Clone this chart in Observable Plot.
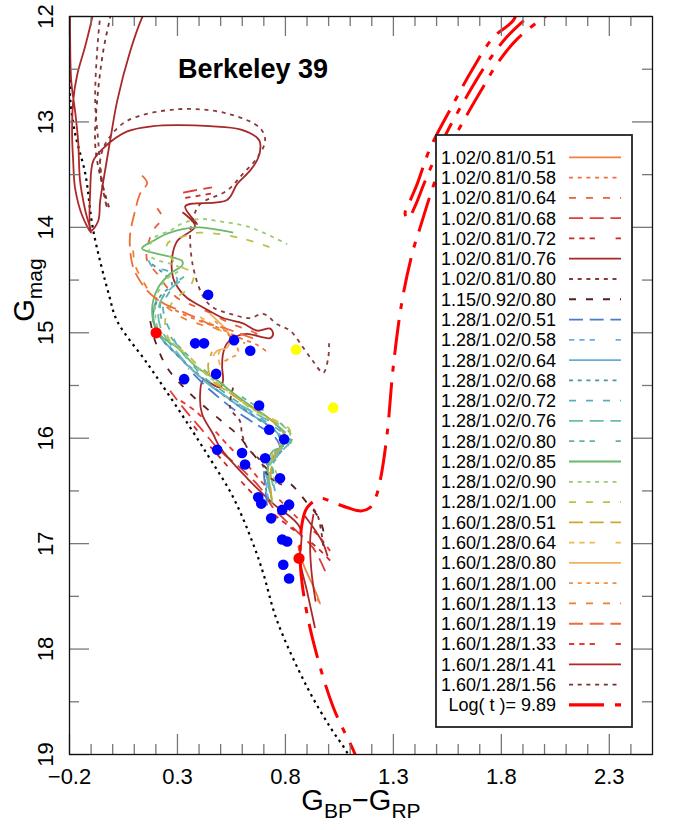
<!DOCTYPE html>
<html><head><meta charset="utf-8">
<script src="https://cdn.jsdelivr.net/npm/d3@7"></script>
<script src="https://cdn.jsdelivr.net/npm/@observablehq/plot@0.6"></script>
<style>body{margin:0;background:#fff;font-family:"Liberation Sans",Arial,sans-serif}</style>
</head><body><div id="chart"></div>
<script>
// ---------- axis ticks ----------
const xMajor = [-0.2, 0.3, 0.8, 1.3, 1.8, 2.3];
const xMinor = [-0.1, 0, 0.1, 0.2, 0.4, 0.5, 0.6, 0.7, 0.9, 1.0, 1.1, 1.2, 1.4, 1.5, 1.6, 1.7, 1.9, 2.0, 2.1, 2.2, 2.4];
const yMajor = [12, 13, 14, 15, 16, 17, 18, 19];
const yMinor = [12.5, 13.5, 14.5, 15.5, 16.5, 17.5, 18.5];

// ---------- observed stars ----------
const blueX = [0.442,0.382,0.423,0.562,0.637,0.479,0.331,0.678,0.725,0.794,0.484,0.599,0.706,0.613,0.775,0.674,0.688,0.817,0.785,0.734,0.785,0.808,0.790,0.817];
const blueY = [14.64,15.10,15.10,15.07,15.17,15.39,15.44,15.69,15.92,16.01,16.11,16.14,16.19,16.25,16.38,16.56,16.62,16.63,16.68,16.76,16.96,16.98,17.20,17.33];
const redX = [0.201, 0.863];
const redY = [15.00, 17.14];
const yellowX = [0.849, 1.021];
const yellowY = [15.16, 15.71];

// ---------- zero-age line (black dotted) ----------
const zams = [[-0.196,12.60],[-0.197,12.77],[-0.174,13.11],[-0.127,13.49],[-0.090,14.03],[-0.016,14.65],[0.021,14.89],[0.160,15.29],[0.299,15.71],[0.437,16.15],[0.558,16.56],[0.650,17.00],[0.697,17.28],[0.761,17.73],[0.900,18.36],[1.007,18.74],[1.085,18.98],[1.11,19.1]];

// ---------- isochrone Log(t)=9.89 ----------
const iso = [[1.155,19.2],[1.123,19.0],[1.021,18.55],[0.928,17.92],[0.882,17.45],[0.868,17.13],[0.877,16.81],[0.900,16.66],[0.960,16.57],[1.021,16.61],[1.090,16.66],[1.150,16.69],[1.190,16.66],[1.215,16.58],[1.239,16.40],[1.271,15.96],[1.299,15.33],[1.340,14.70],[1.387,14.25],[1.424,14.00],[1.493,13.56],[1.549,13.28],[1.625,12.99],[1.704,12.71],[1.783,12.44],[1.875,12.21],[1.996,12.01],[2.075,11.90],[2.2,11.8],[1.919,11.80],[1.854,12.04],[1.762,12.20],[1.669,12.49],[1.577,12.83],[1.470,13.25],[1.410,13.59],[1.377,13.75],[1.354,13.87],[1.368,13.92],[1.400,13.80],[1.447,13.56],[1.540,13.13],[1.642,12.75],[1.725,12.47],[1.818,12.21],[1.919,12.01],[1.979,11.90]];

// ---------- evolutionary tracks ----------
const t_102_081_051 = [[0.859,17.02],[0.882,17.19],[0.905,17.30],[0.928,17.40],[0.961,17.57],[0.947,17.52]];
const t_102_081_058 = [[0.220,14.70],[0.312,14.81],[0.405,14.89],[0.498,14.96],[0.590,15.05],[0.674,15.12],[0.720,15.19]];
const t_102_081_064 = [[0.206,13.82],[0.229,13.91],[0.187,14.03],[0.160,14.20],[0.160,14.32],[0.206,14.44],[0.252,14.57],[0.299,14.67],[0.359,14.73],[0.451,14.81],[0.544,14.91],[0.637,14.98],[0.706,15.05]];
const t_102_081_068 = [[0.984,17.26],[0.928,17.04],[0.836,16.85],[0.743,16.66],[0.683,16.47],[0.590,16.28],[0.498,16.12],[0.405,15.90],[0.326,15.71],[0.266,15.55],[NaN,NaN],[0.326,13.67],[0.405,13.64],[0.460,13.62]];
const t_102_081_072 = [[1.007,17.16],[0.937,17.02],[0.845,16.88],[0.729,16.69],[0.613,16.45],[0.521,16.24],[0.428,16.02],[0.359,15.84],[NaN,NaN],[0.336,13.72],[0.400,13.70],[0.480,13.67]];
const t_102_081_076 = [[0.937,17.80],[0.900,17.45],[0.868,17.16],[0.868,16.85],[0.743,16.62],[0.623,16.38],[0.498,16.09],[0.465,15.96],[0.414,15.77],[0.405,15.58],[0.419,15.45],[0.498,15.52],[0.511,15.45],[0.507,15.33],[0.511,15.20],[0.530,15.10],[0.576,15.03],[0.623,15.01],[0.729,15.05],[0.743,15.01],[0.729,14.96],[0.669,14.98],[0.604,14.91],[0.511,14.86],[0.419,14.76],[0.345,14.67],[0.312,14.60],[0.280,14.48],[0.275,14.29],[0.299,14.13],[0.382,13.99],[0.326,13.86],[0.391,13.97],[0.336,13.80],[0.530,13.74],[0.576,13.59],[0.637,13.46],[0.674,13.34],[0.683,13.20],[0.669,13.15],[0.590,13.07],[0.451,13.04],[0.299,13.03],[0.187,13.04],[0.067,13.09],[-0.044,13.25],[-0.090,13.37],[-0.104,13.65],[-0.100,14.03],[-0.067,13.94],[-0.058,13.75],[-0.035,13.46],[-0.012,13.18],[0.021,12.80],[0.081,12.33],[0.136,12.01],[0.164,11.90]];
const t_102_081_080 = [[1.002,15.10],[0.998,15.24],[0.975,15.38],[0.928,15.27],[0.882,15.14],[0.822,14.98],[0.762,14.92],[0.697,14.82],[0.637,14.86],[0.544,14.82],[0.465,14.76],[0.420,14.66],[0.373,14.38],[0.359,14.06],[0.373,13.91],[0.405,13.78],[0.530,13.65],[0.604,13.49],[0.669,13.34],[0.706,13.18],[0.683,13.06],[0.530,12.92],[0.299,12.88],[0.067,12.99],[-0.026,13.18],[-0.058,13.37],[-0.044,13.65],[-0.026,13.82],[-0.049,13.56],[-0.067,13.18],[-0.081,12.80],[-0.072,12.33],[-0.058,12.01],[-0.049,11.90]];
const t_115_092_080 = [[0.174,14.89],[0.197,15.08],[0.252,15.33],[0.345,15.55],[0.465,15.77],[0.530,15.88],[0.590,15.99],[0.637,16.12],[0.743,16.34],[0.822,16.43],[0.891,16.59],[0.961,16.78],[0.984,16.97]];
const t_128_102_051 = [[0.715,16.64],[0.706,16.45],[0.702,16.31],[0.729,16.20],[0.775,16.12],[0.752,15.99],[0.674,15.88],[0.590,15.77],[0.507,15.64],[0.428,15.50],[0.350,15.34]];
const t_128_102_058 = [[0.720,16.57],[0.711,16.40],[0.720,16.24],[0.757,16.12],[0.794,16.03],[0.743,15.91],[0.669,15.81],[0.590,15.69],[0.507,15.58],[0.414,15.44],[0.326,15.27],[0.252,15.10],[0.211,14.98],[0.197,14.87]];
const t_128_102_064 = [[0.729,16.52],[0.715,16.33],[0.738,16.19],[0.785,16.09],[0.766,15.96],[0.692,15.84],[0.613,15.74],[0.535,15.62],[0.460,15.51],[0.373,15.36],[0.289,15.19],[0.229,15.06],[0.197,14.94],[0.187,14.81],[0.201,14.70]];
const t_128_102_068 = [[0.720,16.59],[0.706,16.38],[0.729,16.21],[0.789,16.10],[0.752,15.93],[0.674,15.82],[0.590,15.70],[0.511,15.59],[0.428,15.45],[0.336,15.28],[0.257,15.13],[0.211,15.01],[0.187,14.87],[0.197,14.74],[0.229,14.63],[0.275,14.54],[0.220,14.41],[0.174,14.34]];
const t_128_102_072 = [[0.752,16.50],[0.738,16.31],[0.766,16.16],[0.813,16.07],[0.785,15.95],[0.706,15.84],[0.637,15.74],[0.567,15.64],[0.507,15.55],[0.428,15.43],[0.359,15.28],[0.299,15.12],[0.266,14.98],[0.243,14.87],[0.234,14.73],[0.266,14.60],[0.299,14.49],[0.252,14.41],[0.187,14.38],[0.160,14.29]];
const t_128_102_076 = [[0.743,16.45],[0.729,16.26],[0.775,16.14],[0.822,16.02],[0.775,15.90],[0.692,15.80],[0.613,15.71],[0.530,15.61],[0.451,15.50],[0.373,15.36],[0.312,15.22],[0.257,15.08],[0.220,14.94],[0.211,14.79],[0.229,14.67],[0.275,14.57],[0.312,14.51]];
const t_128_102_080 = [[0.757,16.43],[0.743,16.24],[0.799,16.12],[0.831,15.99],[0.789,15.88],[0.715,15.76],[0.637,15.66],[0.558,15.55],[0.474,15.44],[0.396,15.30],[0.326,15.17],[0.266,15.03],[0.229,14.89],[0.220,14.74],[0.243,14.62],[0.289,14.53],[0.336,14.46]];
const t_128_102_085 = [[0.738,16.62],[0.729,16.47],[0.720,16.34],[0.720,16.21],[0.743,16.12],[0.775,16.09],[0.808,16.01],[0.762,15.88],[0.697,15.77],[0.623,15.67],[0.544,15.55],[0.484,15.45],[0.391,15.33],[0.299,15.14],[0.234,15.05],[0.197,14.95],[0.183,14.82],[0.187,14.70],[0.211,14.57],[0.266,14.44],[0.322,14.36],[0.322,14.32],[0.136,14.20],[0.187,14.13],[0.252,14.06],[0.345,14.01],[0.405,14.00],[0.558,14.05]];
const t_128_102_090 = [[0.752,16.40],[0.729,16.23],[0.789,16.07],[0.822,15.95],[0.729,15.82],[0.637,15.71],[0.553,15.58],[0.460,15.44],[0.368,15.28],[0.280,15.10],[0.211,14.96],[0.197,14.79],[0.206,14.64],[0.243,14.50],[0.312,14.39],[0.174,14.27],[0.187,14.11],[0.266,14.03],[0.326,13.96],[0.405,13.92],[0.484,13.94],[0.637,14.00],[0.808,14.16]];
const t_128_102_100 = [[0.766,16.36],[0.738,16.17],[0.822,15.93],[0.752,15.83],[0.660,15.74],[0.576,15.62],[0.498,15.50],[0.419,15.36],[0.336,15.19],[0.266,15.08],[0.243,14.89],[0.280,14.70],[0.359,14.56],[0.373,14.44],[0.289,14.34],[0.252,14.16],[0.336,14.08],[0.405,14.05],[0.590,14.10],[0.743,14.20]];
const t_160_128_051 = [[0.738,16.59],[0.729,16.38],[0.752,16.16],[0.799,16.02],[0.775,15.90],[0.692,15.77],[0.613,15.67],[0.535,15.56],[0.460,15.45],[0.442,15.31],[0.460,15.18]];
const t_160_128_064 = [[0.405,14.85],[0.474,14.94],[0.521,15.03],[0.507,15.12],[0.488,15.22],[0.498,15.31]];
const t_160_128_080 = [[0.451,14.82],[0.498,14.91],[0.530,14.98],[0.544,15.05],[0.530,15.14],[0.484,15.17],[0.465,15.22]];
const t_160_128_100 = [[0.474,14.89],[0.521,14.98],[0.567,15.10],[0.581,15.19],[0.544,15.24],[0.507,15.28]];
const t_160_128_113 = [[0.095,14.22],[0.104,14.36],[0.141,14.51],[0.174,14.62],[0.234,14.73],[0.326,14.86],[0.405,14.92],[0.465,14.95],[0.544,15.03],[0.613,15.10]];
const t_160_128_119 = [[0.136,13.51],[0.160,13.58],[0.127,13.68],[0.104,13.84],[0.081,14.06],[0.081,14.22],[0.095,14.38],[0.127,14.51],[0.160,14.60],[0.197,14.67],[0.243,14.73],[0.312,14.79],[0.391,14.86],[0.451,14.92],[0.511,14.95],[0.590,15.01],[0.660,15.06]];
const t_160_128_133 = [[1.007,17.07],[0.951,16.92],[0.868,16.78],[0.775,16.59],[0.692,16.42],[0.613,16.23],[0.535,16.07],[0.451,15.88],[0.382,15.74],[0.303,15.63]];
const t_160_128_141 = [[-0.086,11.90],[-0.095,12.01],[-0.127,12.28],[-0.164,12.55],[-0.183,12.80],[-0.188,13.11],[-0.183,13.37],[-0.174,13.63],[-0.141,13.89],[-0.100,14.05],[-0.127,13.84],[-0.151,13.56],[-0.160,13.18],[-0.174,12.90],[-0.192,12.61],[-0.197,12.23],[-0.197,11.90],[NaN,NaN],[0.891,16.74],[0.940,16.88],[0.975,17.00],[0.995,17.12],[NaN,NaN],[0.930,16.72],[0.915,16.95],[0.920,17.25],[0.940,17.55]];
const t_160_128_156 = [[-0.002,11.90],[-0.012,12.01],[-0.044,12.33],[-0.072,12.80],[-0.081,13.21],[-0.058,13.51],[-0.012,13.84],[NaN,NaN],[0.558,15.52],[0.544,15.71],[0.590,15.84],[0.599,15.96],[0.623,16.09],[0.683,16.21],[0.715,16.34],[0.760,16.42],[0.800,16.45],[NaN,NaN],[0.975,17.02],[0.947,16.72],[0.915,16.64]];

// legend labels, in legend order
const labels = ["1.02/0.81/0.51","1.02/0.81/0.58","1.02/0.81/0.64","1.02/0.81/0.68","1.02/0.81/0.72","1.02/0.81/0.76","1.02/0.81/0.80","1.15/0.92/0.80","1.28/1.02/0.51","1.28/1.02/0.58","1.28/1.02/0.64","1.28/1.02/0.68","1.28/1.02/0.72","1.28/1.02/0.76","1.28/1.02/0.80","1.28/1.02/0.85","1.28/1.02/0.90","1.28/1.02/1.00","1.60/1.28/0.51","1.60/1.28/0.64","1.60/1.28/0.80","1.60/1.28/1.00","1.60/1.28/1.13","1.60/1.28/1.19","1.60/1.28/1.33","1.60/1.28/1.41","1.60/1.28/1.56"];
const isoLabel = "Log( t )= 9.89";
const trackData = [t_102_081_051,t_102_081_058,t_102_081_064,t_102_081_068,t_102_081_072,t_102_081_076,t_102_081_080,t_115_092_080,t_128_102_051,t_128_102_058,t_128_102_064,t_128_102_068,t_128_102_072,t_128_102_076,t_128_102_080,t_128_102_085,t_128_102_090,t_128_102_100,t_160_128_051,t_160_128_064,t_160_128_080,t_160_128_100,t_160_128_113,t_160_128_119,t_160_128_133,t_160_128_141,t_160_128_156];

// ---------- styles ----------
const colors = ["#f0803c","#f07040","#e8603c","#e03c3c","#c82828","#a82828","#8c3838","#5a1e1e","#4a7ad0","#6aaae8","#6aaad8","#4898a8","#5ab0b8","#6abcb0","#62b498","#6cb86c","#98cc70","#c0c048","#ccaa30","#ecb850","#f0b060","#f09040","#f08030","#f06c38","#e83838","#b02828","#783030"];
const DASH = {solid: null, dot: "4,4.7", short: "7,10", long: "14,6.7", pat: "5.3,5,5.3,5,5.3,20.7"};
const dashes = ["solid","dot","short","long","pat","solid","dot","short","long","pat","solid","dot","short","long","pat","solid","dot","short","long","pat","solid","dot","short","long","pat","solid","dot"].map(k => DASH[k]);
const isoDash = "35,11,6,11";

const W = 681, H = 830, mL = 69, mR = 29, mT = 16, mB = 76;
const pw = W - mL - mR, ph = H - mT - mB;
const fx = d => d[0], fy = d => d[1];
const fmt = d3.format(".1f");

const marks = [
  Plot.line(zams, {x: fx, y: fy, stroke: "#000", strokeWidth: 2.2, strokeDasharray: "2.5,4.2", strokeLinecap: "butt", curve: "catmull-rom", clip: true}),
  ...trackData.map((t, i) => Plot.line(t, {x: fx, y: fy, stroke: colors[i], strokeWidth: 1.8, strokeDasharray: dashes[i], strokeLinecap: "butt", curve: "catmull-rom", clip: true})),
  Plot.line(iso, {x: fx, y: fy, stroke: "#ff0000", strokeWidth: 3, strokeDasharray: isoDash, strokeLinecap: "butt", curve: "catmull-rom", clip: true}),
  Plot.dot(blueX.map((x, i) => [x, blueY[i]]), {x: fx, y: fy, r: 5.3, fill: "#0000ff"}),
  Plot.dot(yellowX.map((x, i) => [x, yellowY[i]]), {x: fx, y: fy, r: 5.3, fill: "#ffff00"}),
  Plot.dot(redX.map((x, i) => [x, redY[i]]), {x: fx, y: fy, r: 5.6, fill: "#ff0000"}),
  // ticks (inward, all four sides)
  Plot.tickX(xMinor, {x: d => d, insetTop: ph - 10, stroke: "#777", strokeWidth: 1.3}),
  Plot.tickX(xMinor, {x: d => d, insetBottom: ph - 10, stroke: "#777", strokeWidth: 1.3}),
  Plot.tickX(xMajor, {x: d => d, insetTop: ph - 20, stroke: "#777", strokeWidth: 1.3}),
  Plot.tickX(xMajor, {x: d => d, insetBottom: ph - 20, stroke: "#777", strokeWidth: 1.3}),
  Plot.tickY(yMinor, {y: d => d, insetRight: pw - 10, stroke: "#777", strokeWidth: 1.3}),
  Plot.tickY(yMinor, {y: d => d, insetLeft: pw - 10, stroke: "#777", strokeWidth: 1.3}),
  Plot.tickY(yMajor, {y: d => d, insetRight: pw - 20, stroke: "#777", strokeWidth: 1.3}),
  Plot.tickY(yMajor, {y: d => d, insetLeft: pw - 20, stroke: "#777", strokeWidth: 1.3}),
  // tick labels
  Plot.text(xMajor, {x: d => d, text: d => fmt(d), frameAnchor: "bottom", dy: 22, lineAnchor: "middle", textAnchor: "middle", fontSize: 22, fill: "#000"}),
  Plot.text(yMajor, {y: d => d, text: d => String(d), frameAnchor: "left", dx: -24, rotate: -90, lineAnchor: "middle", textAnchor: "middle", fontSize: 22, fill: "#000"}),
  Plot.frame({stroke: "#111", strokeWidth: 1.3})
];

const svg = Plot.plot({
  width: W, height: H,
  marginLeft: mL, marginRight: mR, marginTop: mT, marginBottom: mB,
  style: {fontFamily: '"Liberation Sans", Arial, sans-serif', background: "#fff", overflow: "visible"},
  x: {domain: [-0.2, 2.5], axis: null},
  y: {domain: [12, 19], reverse: true, axis: null},
  marks
});
document.getElementById("chart").appendChild(svg);

// ---------- title, axis titles, legend ----------
const s = d3.select(svg);
s.append("text").attr("x", 178).attr("y", 78).attr("text-anchor", "start").attr("font-size", 27).attr("font-weight", "bold").attr("fill", "#000").text("Berkeley 39");

const xl = s.append("text").attr("x", 361).attr("y", 810).attr("text-anchor", "middle").attr("font-size", 29).attr("fill", "#000");
xl.append("tspan").text("G");
xl.append("tspan").attr("font-size", 21).attr("dy", 8).text("BP");
xl.append("tspan").attr("dy", -8).text("\u2212G");
xl.append("tspan").attr("font-size", 21).attr("dy", 8).text("RP");

const yl = s.append("text").attr("transform", "translate(34,290) rotate(-90)").attr("text-anchor", "middle").attr("font-size", 29).attr("fill", "#000");
yl.append("tspan").text("G");
yl.append("tspan").attr("font-size", 21).attr("dy", 8).text("mag");

const lg = s.append("g").attr("text-anchor", "end");
lg.append("rect").attr("x", 436).attr("y", 135).attr("width", 196).attr("height", 592).attr("fill", "#fff").attr("stroke", "#222").attr("stroke-width", 1.8);
const entries = labels.map((l, i) => ({label: l, color: colors[i], dash: dashes[i], w: 1.8}));
entries.push({label: isoLabel, color: "#ff0000", dash: isoDash, w: 3.2});
entries.forEach((e, i) => {
  const cy = 157.3 + i * 20.28;
  lg.append("text").attr("x", 556).attr("y", cy + 6.4).attr("text-anchor", "end").attr("font-size", 18).attr("fill", "#000").text(e.label);
  lg.append("line").attr("x1", 569).attr("x2", 621).attr("y1", cy).attr("y2", cy)
    .attr("stroke", e.color).attr("stroke-width", e.w).attr("stroke-dasharray", e.dash).attr("stroke-linecap", "butt");
});
</script>
</body></html>
